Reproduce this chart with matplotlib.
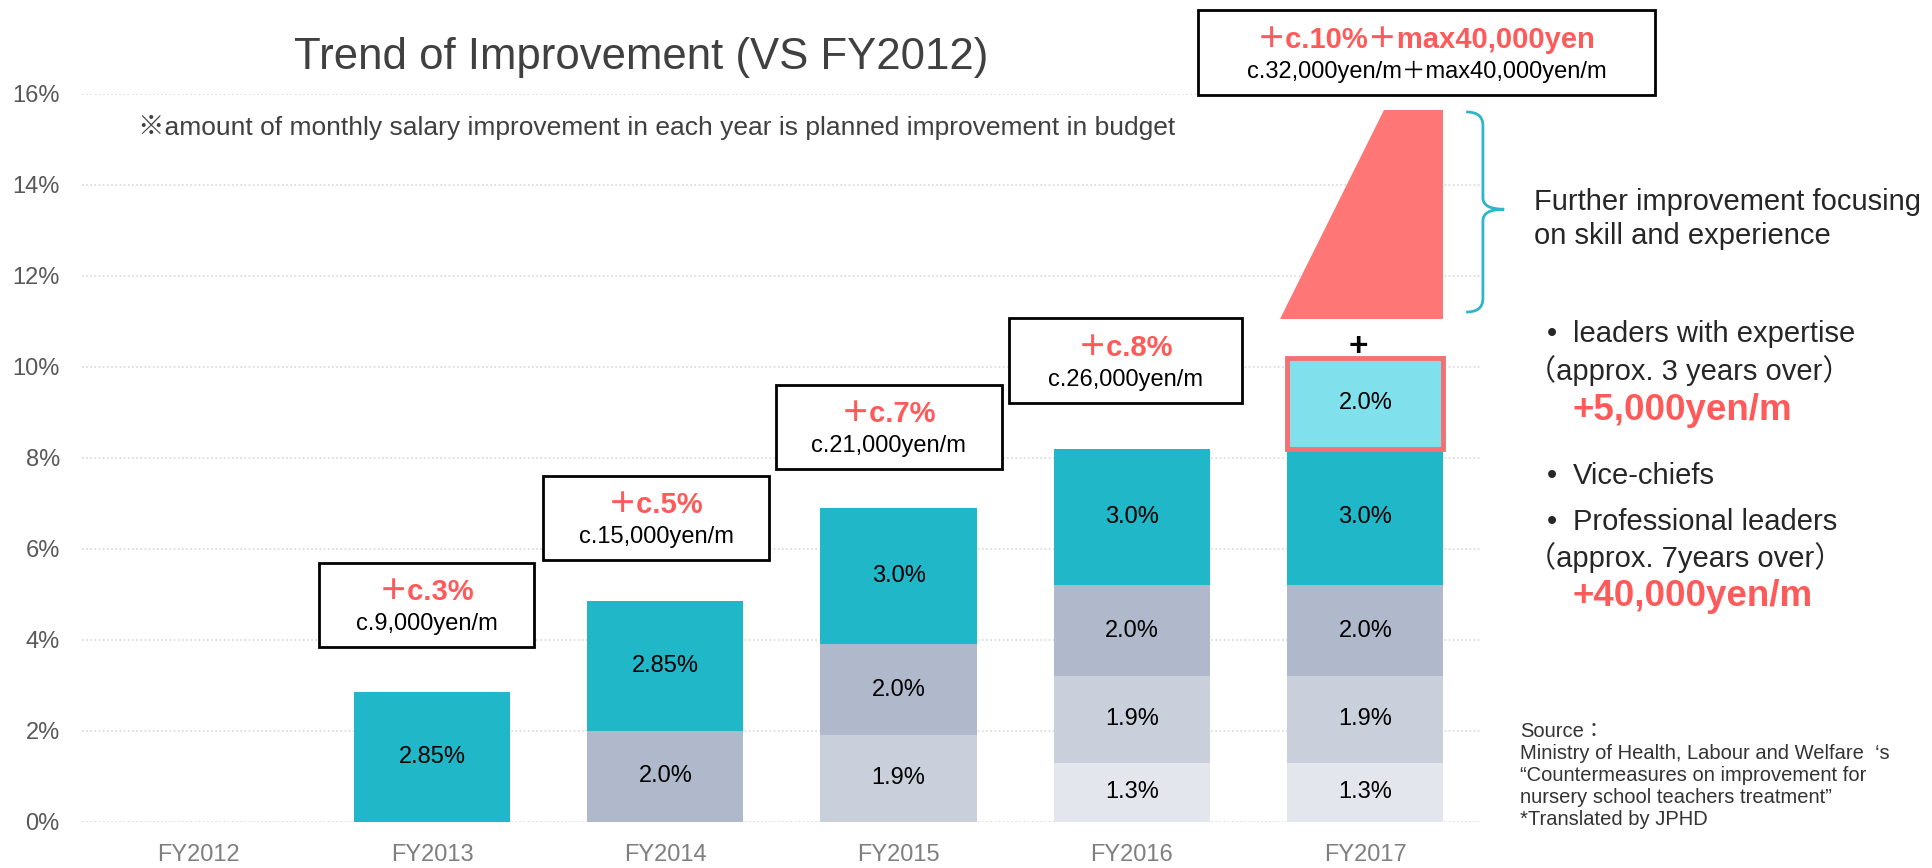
import matplotlib
matplotlib.use("Agg")
import matplotlib.pyplot as plt
from matplotlib.patches import Rectangle, Polygon, PathPatch
from matplotlib.path import Path

plt.rcParams['font.family'] = ['Liberation Sans', 'Noto Sans CJK JP', 'DejaVu Sans']

W, H = 1933, 868

# data (percent, stacked bottom -> top)
years = ["FY2012", "FY2013", "FY2014", "FY2015", "FY2016", "FY2017"]
seg_2016 = [0, 0, 0, 0, 1.3, 1.3]
seg_2015 = [0, 0, 0, 1.9, 1.9, 1.9]
seg_2014 = [0, 0, 2.0, 2.0, 2.0, 2.0]
seg_base = [0, 2.85, 2.85, 3.0, 3.0, 3.0]
seg_2017 = [0, 0, 0, 0, 0, 2.0]
yticks = [0, 2, 4, 6, 8, 10, 12, 14, 16]

box_main = ["＋c.3%", "＋c.5%", "＋c.7%", "＋c.8%", "＋c.10%＋max40,000yen"]
box_yen = ["c.9,000yen/m", "c.15,000yen/m", "c.21,000yen/m", "c.26,000yen/m",
           "c.32,000yen/m＋max40,000yen/m"]

# extra skill-based improvement on top of FY2017 (percent range)
extra_low, extra_high = 11.05, 15.64

teal = "#20B7C9"
red = "#FF5A5A"


def fmt(v):
    s = f"{v:.2f}".rstrip("0")
    if s.endswith("."):
        s += "0"
    return s + "%"


def px(x, y):
    return x / W, 1 - y / H


fig = plt.figure(figsize=(W / 100, H / 100), dpi=100)
ax = fig.add_axes([82 / W, (H - 821.7) / H, 1400 / W, (821.7 - 93.7) / H])

x = list(range(len(years)))
bw = 0.67
layers = [
    (seg_2016, "#E3E6EC", None),
    (seg_2015, "#C9D0DB", None),
    (seg_2014, "#B0B9CB", None),
    (seg_base, teal, None),
    (seg_2017, "#80E0EC", "#F47073"),
]
bottom = [0.0] * len(years)
for vals, col, edge in layers:
    for i, v in enumerate(vals):
        if v <= 0:
            continue
        if edge:
            ax.bar(i, v, bw, bottom=bottom[i], color=col, edgecolor=edge,
                   linewidth=3.5, zorder=3)
        else:
            ax.bar(i, v, bw, bottom=bottom[i], color=col, zorder=3)
        ax.text(i, bottom[i] + v / 2, fmt(v), ha="center", va="center",
                fontsize=17, color="black", zorder=4)
    bottom = [b + v for b, v in zip(bottom, vals)]

ax.set_xlim(-0.5, 5.5)
ax.set_ylim(0, 16)
ax.set_yticks(yticks)
ax.set_yticklabels([f"{t}%" for t in yticks])
ax.set_xticks(x)
ax.set_xticklabels(years)
ax.tick_params(axis="y", length=0, pad=16, labelsize=17, labelcolor="#595959")
ax.tick_params(axis="x", length=0, pad=16, labelsize=17, labelcolor="#7F7F7F")
ax.grid(axis="y", color="#D9D9D9", linestyle=(0, (1, 1.5)), linewidth=1.2, zorder=0)
for s in ax.spines.values():
    s.set_visible(False)

# annotation boxes: (center x, center y, width, height) in data units
box_layout = [(0.977, 4.76, 0.92, 1.85), (1.96, 6.67, 0.97, 1.85),
              (2.958, 8.67, 0.97, 1.85), (3.972, 10.13, 1.0, 1.87),
              (5.262, 16.9, 1.96, 1.87)]
for (cx, cy, bwid, bh), m, yen in zip(box_layout, box_main, box_yen):
    ax.add_patch(Rectangle((cx - bwid / 2, cy - bh / 2), bwid, bh, fill=True,
                           facecolor="white", edgecolor="black", linewidth=2,
                           clip_on=False, zorder=5))
    ax.text(cx, cy + 0.29, m, ha="center", va="center", fontsize=21,
            fontweight="bold", color=red, zorder=6, clip_on=False)
    ax.text(cx, cy - 0.42, yen, ha="center", va="center", fontsize=17,
            color="black", zorder=6, clip_on=False)

# plus sign and trapezoid above FY2017
i17 = len(years) - 1
ax.text(i17 - 0.03, bottom[i17] + 0.22, "+", ha="center", va="center", fontsize=24,
        fontweight="bold", color="black", zorder=6)
right = i17 + bw / 2
ax.add_patch(Polygon([(i17 - 0.366, extra_low), (right, extra_low),
                      (right, extra_high), (i17 + 0.08, extra_high)],
                     closed=True, facecolor="#FF7676", edgecolor="none",
                     clip_on=False, zorder=3))

# curly bracket
xl, xm, xt = 5.432, 5.504, 5.595
yt, yb, ym = 15.6, 11.2, 13.46
verts = [(xl, yt), (xm, yt), (xm, yt - 0.3),
         (xm, ym + 0.25), (xm, ym), (xt, ym),
         (xm, ym), (xm, ym - 0.25),
         (xm, yb + 0.3), (xm, yb), (xl, yb)]
codes = [Path.MOVETO, Path.CURVE3, Path.CURVE3,
         Path.LINETO, Path.CURVE3, Path.CURVE3,
         Path.CURVE3, Path.CURVE3,
         Path.LINETO, Path.CURVE3, Path.CURVE3]
ax.add_patch(PathPatch(Path(verts, codes), facecolor="none", edgecolor="#2DB5C8",
                       linewidth=2, clip_on=False, zorder=3))

# title and notes
fig.text(*px(641, 58), "Trend of Improvement (VS FY2012)", ha="center", va="center",
         fontsize=31.5, color="#404040")
fig.text(*px(138, 127),
         "※amount of monthly salary improvement in each year is planned improvement in budget",
         ha="left", va="center", fontsize=19, color="#404040")

dark = "#262626"
fig.text(*px(1534, 219), "Further improvement focusing\non skill and experience",
         ha="left", va="center", fontsize=21, color=dark, linespacing=1.25)
for yy in (334, 476, 522):
    fig.text(*px(1547, yy), "•", ha="left", va="center", fontsize=21, color=dark)
fig.text(*px(1573, 334), "leaders with expertise", ha="left", va="center",
         fontsize=21, color=dark)
fig.text(*px(1527, 371), "（approx. 3 years over）", ha="left", va="center",
         fontsize=21, color=dark)
fig.text(*px(1573, 410), "+5,000yen/m", ha="left", va="center", fontsize=26.5,
         fontweight="bold", color=red)
fig.text(*px(1573, 476), "Vice-chiefs", ha="left", va="center", fontsize=21, color=dark)
fig.text(*px(1573, 522), "Professional leaders", ha="left", va="center",
         fontsize=21, color=dark)
fig.text(*px(1527, 558), "（approx. 7years over）", ha="left", va="center",
         fontsize=21, color=dark)
fig.text(*px(1573, 597), "+40,000yen/m", ha="left", va="center", fontsize=26.5,
         fontweight="bold", color=red)

fig.text(*px(1520, 722),
         "Source：\nMinistry of Health, Labour and Welfare  ‘s\n"
         "“Countermeasures on improvement for\nnursery school teachers treatment”\n"
         "*Translated by JPHD",
         ha="left", va="top", fontsize=14.5, color="#333333", linespacing=1.2)

fig.savefig("out.png", dpi=100, facecolor="white")
